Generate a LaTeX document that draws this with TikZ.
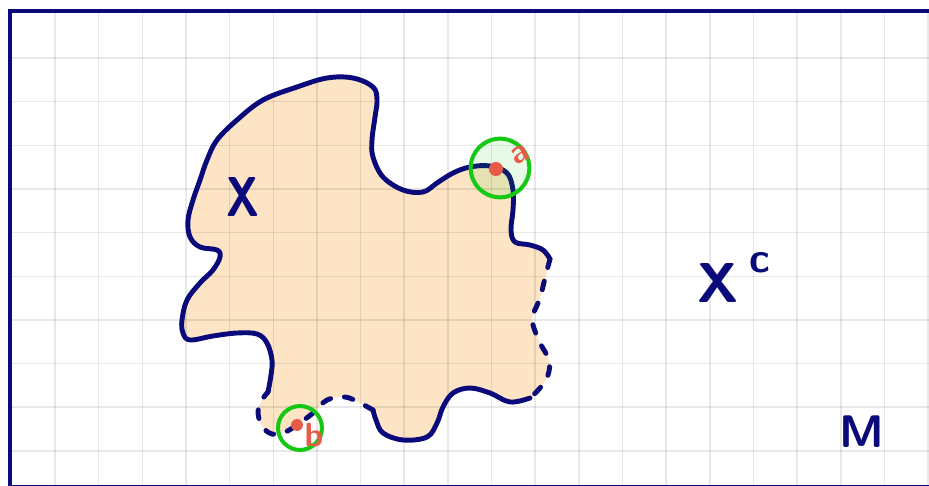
\documentclass[tikz,border=0pt]{standalone}
\usetikzlibrary{calc}
\definecolor{navyink}{RGB}{10,10,122}
\definecolor{peach}{RGB}{252,228,196}
\definecolor{nbgreen}{RGB}{20,200,20}
\definecolor{dotred}{RGB}{230,92,72}

\begin{document}
\begin{tikzpicture}[
  x=0.02cm, y=-0.02cm,
  ink/.style={draw=navyink, line width=2.8pt, line cap=round, line join=round},
  inkdash/.style={ink, dash pattern=on 5pt off 8pt},
  gridline/.style={draw=black, opacity=0.09, line width=0.9pt},
  frame/.style={draw=navyink, line width=2.8pt},
  nbhd/.style={circle, draw=nbgreen, line width=2.3pt, inner sep=0pt},
  pt/.style={circle, fill=dotred, inner sep=0pt},
  hand/.style={text=navyink, font=\sffamily\bfseries\fontsize{32}{32}\selectfont, inner sep=0pt},
  redhand/.style={text=dotred, font=\sffamily\bfseries\fontsize{19}{19}\selectfont, inner sep=0pt}
]

\useasboundingbox (0,0) rectangle (929,486);

\def\gs{43.65}

\fill[peach] plot[smooth cycle, tension=0.6] coordinates {
  (268,392) (271,375) (272,360) (267,343) (257,334) (237,333) (213,336) (190,340)
  (183,333) (182,320) (187,300) (200,283) (213,270) (220,257) (217,250) (200,247)
  (190,237) (188,220) (193,200) (200,180) (207,160) (217,140) (237,120) (263,100)
  (297,87) (327,78) (353,78) (373,87) (377,100) (375,117) (372,140) (373,157)
  (383,177) (403,190) (423,192) (437,183) (453,173) (470,167) (490,166) (507,173)
  (513,190) (513,210) (511,230) (515,242) (530,245) (543,250) (550,259)
  (545,278) (540,298) (533,315) (533,325) (540,343) (549,360) (548,375) (540,388)
  (530,398) (510,402) (490,393) (470,388) (453,393) (443,407) (437,423) (427,437)
  (403,440) (383,433) (376,420) (373,410) (360,403) (345,397) (327,400) (313,413)
  (297,425) (285,432) (272,434) (262,426) (258,412) (262,400)};

\foreach \k in {1,...,21} {
  \draw[gridline] (11.4+\gs*\k,11) -- (11.4+\gs*\k,486);
}
\foreach \k in {1,...,10} {
  \draw[gridline] (10,14.4+\gs*\k) -- (929,14.4+\gs*\k);
}

\draw[frame] (10,11) rectangle (960,487);

\draw[ink] plot[smooth, tension=0.6] coordinates {
  (268,392) (271,375) (272,360) (267,343) (257,334) (237,333) (213,336) (190,340)
  (183,333) (182,320) (187,300) (200,283) (213,270) (220,257) (217,250) (200,247)
  (190,237) (188,220) (193,200) (200,180) (207,160) (217,140) (237,120) (263,100)
  (297,87) (327,78) (353,78) (373,87) (377,100) (375,117) (372,140) (373,157)
  (383,177) (403,190) (423,192) (437,183) (453,173) (470,167) (490,166) (507,173)
  (513,190) (513,210) (511,230) (515,242) (530,245) (543,250) (550,259)};
\draw[inkdash] plot[smooth, tension=0.6] coordinates {
  (550,259) (545,278) (540,298) (533,315) (533,325) (540,343) (549,360) (548,375)
  (540,388) (530,398)};
\draw[ink] plot[smooth, tension=0.6] coordinates {
  (530,398) (510,402) (490,393) (470,388) (453,393) (443,407) (437,423) (427,437)
  (403,440) (383,433) (376,420) (373,410)};
\draw[inkdash] plot[smooth, tension=0.6] coordinates {
  (373,410) (360,403) (345,397) (327,400) (313,413) (297,425) (285,432) (272,434)
  (262,426) (258,412) (262,400) (268,392)};

\node[nbhd, fill=nbgreen, fill opacity=0.1, minimum size=33.4pt] (ua) at (500,168) {};
\node[pt, minimum size=8pt] (pa) at (496,169) {};
\node[redhand, rotate=25] (labela) at (520,155) {a};

\node[nbhd, minimum size=25pt] (ub) at (300,428) {};
\node[pt, minimum size=6.8pt] (pb) at (297,425) {};
\node[redhand] (labelb) at (314,435) {b};

\node[hand, xscale=0.8] (setx) at (243,197) {X};
\node[hand, anchor=base west] (setxc) at (697,302) {X\hspace{6pt}\raisebox{17pt}{\fontsize{24}{24}\selectfont c}};
\node[hand, font=\sffamily\bfseries\fontsize{26}{26}\selectfont] (space) at (862,432) {M};

\end{tikzpicture}
\end{document}
